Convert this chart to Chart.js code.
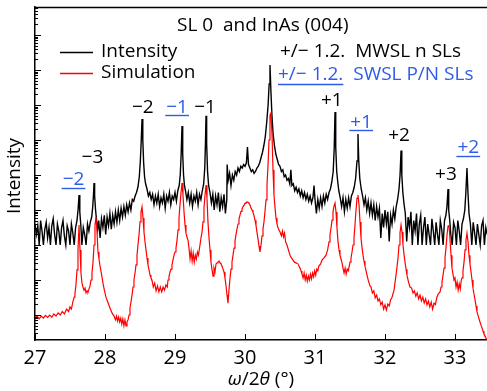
<!DOCTYPE html>
<html>
<head>
<meta charset="utf-8">
<script src="https://cdn.jsdelivr.net/npm/chart.js@4.4.1/dist/chart.umd.min.js"></script>
<style>
  html, body { margin: 0; padding: 0; background: #fff; }
  canvas { display: block; }
</style>
</head>
<body>
<canvas id="xrd_chart" width="487" height="391"></canvas>
<script>
const FONT = "'Open Sans', sans-serif";
const BLUE = '#2f5ce6';

const xTicks = [27, 28, 29, 30, 31, 32, 33];
const seriesNames = ['Intensity', 'Simulation'];

// measured omega/2theta scan: [angle (deg), log10 intensity]
const measured = [
  [27.0,3.6],[27.02,3.3],[27.04,3.55],[27.06,3.0],[27.08,3.7],[27.1,3.4],[27.12,3.0],[27.14,3.45],[27.16,3.65],[27.18,3.2],
  [27.2,3.5],[27.22,3.0],[27.24,3.55],[27.26,3.75],[27.28,3.3],[27.3,3.0],[27.32,3.6],[27.34,3.4],[27.36,3.0],[27.38,3.5],
  [27.4,3.7],[27.42,3.25],[27.44,3.0],[27.46,3.55],[27.48,3.4],[27.5,3.0],[27.52,3.6],[27.54,3.35],[27.56,3.0],[27.58,3.5],
  [27.6,3.7],[27.615,4.0],[27.629,4.43],[27.64,3.95],[27.655,3.55],[27.67,3.0],[27.69,3.5],[27.71,3.3],[27.73,3.0],[27.75,3.6],
  [27.77,3.4],[27.79,3.65],[27.81,3.8],[27.825,4.1],[27.836,4.45],[27.843,4.77],[27.852,4.4],[27.865,4.0],[27.88,3.7],[27.895,3.45],
  [27.91,3.7],[27.93,3.2],[27.95,3.75],[27.97,3.5],[27.99,3.85],[28.01,3.3],[28.03,3.8],[28.05,3.55],[28.07,3.9],[28.09,3.45],
  [28.11,3.85],[28.13,3.6],[28.15,3.95],[28.17,3.65],[28.19,4.0],[28.21,3.7],[28.23,4.05],[28.25,3.8],[28.27,4.1],[28.29,3.85],
  [28.31,4.15],[28.33,3.95],[28.35,4.2],[28.37,4.0],[28.39,4.3],[28.41,4.25],[28.43,4.4],[28.45,4.5],[28.47,4.65],[28.49,4.95],
  [28.505,5.4],[28.518,6.0],[28.529,6.6],[28.54,6.0],[28.552,5.35],[28.565,4.95],[28.58,4.75],[28.6,4.6],[28.62,4.4],[28.64,4.5],
  [28.66,4.3],[28.68,4.45],[28.7,4.15],[28.72,4.4],[28.74,4.2],[28.76,4.45],[28.78,4.1],[28.8,4.35],[28.82,4.2],[28.84,4.45],
  [28.86,4.05],[28.88,4.4],[28.9,4.25],[28.92,4.5],[28.94,4.15],[28.96,4.4],[28.98,4.3],[29.0,4.5],[29.02,4.25],[29.04,4.55],
  [29.06,4.7],[29.075,5.0],[29.088,5.6],[29.1,6.4],[29.11,5.6],[29.122,5.0],[29.135,4.7],[29.15,4.55],[29.17,4.3],[29.19,4.5],
  [29.21,4.2],[29.23,4.45],[29.25,4.1],[29.27,4.4],[29.29,4.25],[29.31,4.5],[29.33,4.15],[29.35,4.45],[29.37,4.3],[29.39,4.55],
  [29.41,4.75],[29.425,5.2],[29.435,5.9],[29.443,6.69],[29.452,5.9],[29.465,5.1],[29.48,4.7],[29.5,4.5],[29.52,4.2],[29.54,4.45],
  [29.56,4.0],[29.58,4.4],[29.6,4.15],[29.62,4.5],[29.64,3.95],[29.66,4.35],[29.68,4.1],[29.7,4.45],[29.72,3.9],[29.74,4.3],
  [29.745,5.3],[29.76,4.85],[29.78,5.05],[29.8,4.7],[29.82,5.0],[29.84,4.85],[29.86,5.1],[29.88,5.0],[29.9,5.2],[29.92,5.1],
  [29.94,5.25],[29.96,5.2],[29.98,5.3],[30.0,5.25],[30.02,5.35],[30.035,5.8],[30.05,5.3],[30.07,5.2],[30.09,5.1],[30.11,5.15],
  [30.13,5.05],[30.15,5.1],[30.17,5.2],[30.19,5.25],[30.21,5.35],[30.23,5.5],[30.25,5.65],[30.27,5.85],[30.29,6.1],[30.31,6.5],
  [30.33,7.0],[30.345,7.6],[30.357,8.14],[30.37,7.4],[30.385,6.7],[30.4,6.2],[30.42,5.85],[30.44,5.6],[30.46,5.45],[30.48,5.3],
  [30.5,5.25],[30.52,5.1],[30.54,5.15],[30.56,4.95],[30.58,5.0],[30.6,4.85],[30.62,4.9],[30.64,4.75],[30.655,5.15],[30.67,4.7],
  [30.69,4.75],[30.71,4.55],[30.73,4.65],[30.75,4.5],[30.77,4.6],[30.79,4.4],[30.81,4.55],[30.83,4.35],[30.85,4.5],[30.87,4.3],
  [30.89,4.45],[30.91,4.25],[30.93,4.4],[30.95,4.2],[30.97,4.35],[30.986,4.7],[31.0,4.3],[31.02,3.9],[31.04,4.3],[31.06,4.05],
  [31.08,4.35],[31.1,4.1],[31.12,4.4],[31.14,4.2],[31.16,4.45],[31.18,4.3],[31.2,4.5],[31.22,4.6],[31.24,4.8],[31.26,5.1],
  [31.275,5.8],[31.286,6.8],[31.296,5.8],[31.31,5.1],[31.325,4.8],[31.34,4.55],[31.36,4.35],[31.38,4.1],[31.4,4.35],[31.42,3.95],
  [31.44,4.3],[31.46,4.05],[31.48,4.35],[31.5,4.1],[31.52,4.4],[31.54,4.5],[31.56,4.65],[31.58,4.9],[31.6,5.4],[31.614,6.17],
  [31.625,5.4],[31.64,4.9],[31.66,4.6],[31.68,4.4],[31.7,4.15],[31.72,4.35],[31.74,4.0],[31.76,4.25],[31.78,3.9],[31.8,4.2],
  [31.82,3.85],[31.84,4.15],[31.86,3.7],[31.88,4.1],[31.9,3.8],[31.92,4.05],[31.94,3.2],[31.96,3.9],[31.98,3.5],[32.0,4.0],
  [32.02,3.6],[32.04,3.95],[32.06,3.1],[32.08,3.85],[32.1,3.6],[32.12,4.0],[32.14,3.75],[32.16,4.1],[32.18,4.3],[32.2,4.6],
  [32.215,5.0],[32.229,5.7],[32.24,5.0],[32.255,4.5],[32.27,4.2],[32.29,3.9],[32.31,3.1],[32.33,3.8],[32.35,3.5],[32.37,3.95],
  [32.39,3.0],[32.41,3.7],[32.43,3.4],[32.45,3.9],[32.47,3.0],[32.49,3.6],[32.51,3.85],[32.53,3.0],[32.55,3.5],[32.57,3.8],
  [32.59,3.0],[32.61,3.6],[32.63,3.3],[32.65,3.0],[32.67,3.75],[32.69,3.4],[32.71,3.0],[32.73,3.65],[32.75,3.3],[32.77,3.0],
  [32.79,3.7],[32.81,3.45],[32.83,3.0],[32.85,3.7],[32.87,3.85],[32.885,4.1],[32.9,4.6],[32.91,4.0],[32.925,3.7],[32.94,3.3],
  [32.96,3.0],[32.98,3.65],[33.0,3.5],[33.02,3.0],[33.04,3.7],[33.06,3.4],[33.08,3.0],[33.1,3.6],[33.12,3.75],[33.14,4.0],
  [33.155,4.5],[33.171,5.2],[33.185,4.5],[33.2,3.9],[33.22,3.6],[33.24,3.0],[33.26,3.65],[33.28,3.35],[33.3,3.0],[33.32,3.6],
  [33.34,3.3],[33.36,3.0],[33.38,3.55],[33.4,3.7],[33.42,3.0],[33.44,3.5],[33.46,3.3]
];

// dynamical simulation: [angle (deg), log10 intensity]
const simulated = [
  [27.0,0.91],[27.03,0.97],[27.06,0.89],[27.09,0.97],[27.12,0.91],[27.15,0.99],[27.18,0.93],[27.21,1.0],[27.24,0.94],[27.27,1.03],
  [27.3,0.97],[27.33,1.06],[27.36,1.0],[27.39,1.1],[27.42,1.03],[27.45,1.17],[27.48,1.1],[27.5,1.23],[27.52,1.17],[27.54,1.37],
  [27.56,1.51],[27.57,1.6],[27.585,1.86],[27.6,2.29],[27.614,2.86],[27.629,3.57],[27.643,2.86],[27.657,2.2],[27.671,1.91],[27.685,1.8],
  [27.7,1.71],[27.715,1.77],[27.729,1.63],[27.743,1.69],[27.757,1.66],[27.771,1.74],[27.786,1.83],[27.8,2.0],[27.814,2.2],[27.829,2.51],
  [27.843,3.0],[27.857,3.57],[27.871,3.8],[27.886,3.37],[27.9,2.8],[27.914,2.6],[27.929,2.4],[27.95,2.17],[27.971,1.91],[27.99,1.72],
  [28.014,1.51],[28.04,1.37],[28.071,1.2],[28.1,1.06],[28.129,0.97],[28.15,0.86],[28.165,0.97],[28.18,0.83],[28.195,0.94],[28.21,0.8],
  [28.225,0.91],[28.24,0.74],[28.255,0.89],[28.27,0.69],[28.285,0.86],[28.3,0.69],[28.314,0.8],[28.329,0.86],[28.343,1.0],[28.357,1.2],
  [28.371,1.37],[28.386,1.57],[28.4,1.8],[28.414,2.0],[28.429,2.2],[28.443,2.43],[28.457,2.7],[28.471,3.0],[28.486,3.29],[28.5,3.66],
  [28.514,3.94],[28.529,4.09],[28.543,3.77],[28.557,3.37],[28.571,3.1],[28.586,2.86],[28.6,2.63],[28.614,2.43],[28.629,2.29],[28.643,2.14],
  [28.657,2.06],[28.671,2.0],[28.69,1.8],[28.71,1.91],[28.73,1.69],[28.75,1.83],[28.77,1.66],[28.79,1.8],[28.81,1.66],[28.83,1.8],
  [28.85,1.71],[28.87,1.86],[28.89,1.8],[28.9,2.0],[28.914,2.1],[28.929,2.23],[28.943,2.31],[28.957,2.43],[28.971,2.57],[28.986,2.71],
  [29.0,2.8],[29.014,2.91],[29.029,3.14],[29.043,3.43],[29.057,3.77],[29.071,4.14],[29.086,4.49],[29.1,4.77],[29.114,4.43],[29.129,3.94],
  [29.143,3.57],[29.157,3.34],[29.171,3.23],[29.186,3.14],[29.2,2.91],[29.215,2.6],[29.23,2.83],[29.245,2.54],[29.26,2.77],[29.275,2.51],
  [29.29,2.71],[29.305,2.6],[29.32,2.8],[29.335,2.71],[29.357,3.0],[29.371,3.2],[29.386,3.37],[29.4,3.66],[29.414,4.06],[29.429,4.43],
  [29.443,4.71],[29.457,4.34],[29.471,3.66],[29.486,3.2],[29.5,2.86],[29.514,2.51],[29.529,2.29],[29.543,2.11],[29.557,2.34],[29.571,2.23],
  [29.586,2.46],[29.6,2.49],[29.614,2.51],[29.629,2.54],[29.643,2.49],[29.657,2.46],[29.671,2.4],[29.686,2.31],[29.7,2.23],[29.714,2.06],
  [29.729,1.83],[29.743,1.57],[29.757,1.34],[29.771,1.71],[29.786,2.06],[29.8,2.31],[29.814,2.51],[29.829,2.71],[29.843,2.91],[29.857,3.11],
  [29.871,3.29],[29.886,3.46],[29.9,3.6],[29.914,3.74],[29.929,3.86],[29.943,3.96],[29.957,4.03],[29.971,4.09],[29.986,4.14],[30.0,4.19],
  [30.014,4.21],[30.029,4.23],[30.043,4.22],[30.057,4.19],[30.071,4.14],[30.086,4.06],[30.1,4.0],[30.114,3.94],[30.129,3.83],[30.143,3.71],
  [30.157,3.56],[30.171,3.37],[30.186,3.17],[30.2,2.97],[30.214,2.8],[30.229,3.0],[30.243,3.26],[30.257,3.46],[30.271,3.66],[30.286,3.97],
  [30.3,4.29],[30.314,4.71],[30.329,5.29],[30.343,6.0],[30.357,6.71],[30.371,6.77],[30.386,6.14],[30.4,5.14],[30.414,4.43],[30.429,4.06],
  [30.443,3.77],[30.457,3.6],[30.471,3.49],[30.486,3.43],[30.5,3.37],[30.52,3.26],[30.535,3.4],[30.55,3.23],[30.565,3.34],[30.58,3.09],
  [30.6,3.0],[30.62,2.86],[30.643,2.71],[30.664,2.63],[30.686,2.57],[30.707,2.51],[30.729,2.49],[30.743,2.47],[30.757,2.46],[30.771,2.4],
  [30.786,2.34],[30.8,2.26],[30.814,2.17],[30.83,2.06],[30.845,2.2],[30.86,2.0],[30.875,2.14],[30.89,1.97],[30.905,2.11],[30.92,2.0],
  [30.935,2.17],[30.95,2.03],[30.965,2.2],[30.98,2.09],[30.995,2.26],[31.01,2.14],[31.025,2.31],[31.04,2.26],[31.055,2.4],[31.08,2.46],
  [31.1,2.57],[31.129,2.63],[31.157,2.71],[31.18,2.86],[31.2,3.09],[31.214,3.29],[31.229,3.49],[31.243,3.71],[31.257,3.94],[31.271,4.11],
  [31.286,4.2],[31.3,3.94],[31.314,3.49],[31.329,3.09],[31.343,2.86],[31.357,2.71],[31.371,2.6],[31.386,2.49],[31.4,2.34],[31.415,2.2],
  [31.43,2.34],[31.445,2.17],[31.46,2.31],[31.475,2.26],[31.5,2.51],[31.514,2.63],[31.529,2.8],[31.543,3.0],[31.557,3.2],[31.571,3.57],
  [31.586,4.0],[31.6,4.34],[31.614,4.43],[31.629,4.14],[31.643,3.66],[31.657,3.2],[31.671,2.94],[31.686,2.71],[31.7,2.54],[31.714,2.4],
  [31.729,2.26],[31.743,2.14],[31.764,1.97],[31.786,1.83],[31.8,1.8],[31.82,1.63],[31.84,1.69],[31.86,1.49],[31.88,1.57],[31.9,1.4],
  [31.92,1.46],[31.94,1.29],[31.96,1.37],[31.98,1.17],[32.0,1.29],[32.02,1.14],[32.04,1.31],[32.06,1.26],[32.08,1.43],[32.1,1.51],
  [32.129,1.71],[32.157,2.14],[32.171,2.37],[32.186,2.63],[32.2,3.0],[32.214,3.34],[32.229,3.57],[32.243,3.37],[32.257,3.0],[32.271,2.74],
  [32.286,2.51],[32.3,2.31],[32.314,2.14],[32.336,1.94],[32.357,1.8],[32.38,1.77],[32.4,1.63],[32.42,1.69],[32.44,1.54],[32.46,1.63],
  [32.48,1.46],[32.5,1.57],[32.52,1.4],[32.54,1.51],[32.56,1.34],[32.58,1.46],[32.6,1.29],[32.62,1.4],[32.64,1.23],[32.66,1.37],
  [32.68,1.17],[32.7,1.34],[32.72,1.3],[32.74,1.5],[32.76,1.6],[32.786,1.66],[32.8,1.8],[32.814,1.94],[32.829,2.14],[32.843,2.34],
  [32.857,2.63],[32.871,2.91],[32.886,3.29],[32.9,3.54],[32.914,3.57],[32.929,3.14],[32.943,2.71],[32.957,2.34],[32.971,2.17],[32.986,2.0],
  [33.0,2.06],[33.015,1.8],[33.03,1.94],[33.045,1.71],[33.06,1.89],[33.075,1.74],[33.09,2.0],[33.1,2.06],[33.114,2.26],[33.129,2.51],
  [33.143,2.86],[33.157,3.14],[33.171,3.34],[33.186,3.09],[33.2,2.71],[33.214,2.46],[33.229,2.23],[33.243,2.0],[33.257,1.77],[33.271,1.6],
  [33.286,1.43],[33.3,1.26],[33.314,1.09],[33.336,0.94],[33.357,0.8],[33.371,0.71],[33.386,0.63],[33.4,0.54],[33.414,0.46],[33.429,0.4],
  [33.443,0.34],[33.457,0.29],[33.471,0.23]
];

// satellite peak labels (MWSL black, SWSL blue + underlined)
const peakNames = ['\u22122', '\u22123', '\u22122', '\u22121', '\u22121', '+1', '+1', '+2', '+3', '+2'];
const peakFamily = ['SW', 'MW', 'MW', 'SW', 'MW', 'MW', 'SW', 'MW', 'MW', 'SW'];
// label anchor (angle, log10 intensity) of each label centre
const peakLabelAt = [
  [27.55, 4.86], [27.82, 5.51], [28.54, 6.94], [29.03, 6.94], [29.43, 6.94],
  [31.24, 7.14], [31.66, 6.51], [32.2, 6.14], [32.87, 5.0], [33.19, 5.77]
];

function toXY(arr) {
  return arr.map(p => ({ x: p[0], y: p[1] }));
}

function underline(ctx, x0, x1, y, color) {
  ctx.strokeStyle = color;
  ctx.lineWidth = 1.4;
  ctx.beginPath();
  ctx.moveTo(x0, y);
  ctx.lineTo(x1, y);
  ctx.stroke();
}

const decorations = {
  id: 'decorations',
  afterDraw(chart) {
    const ctx = chart.ctx;
    const xs = chart.scales.x;
    const ys = chart.scales.y;
    const area = chart.chartArea;
    const TXT = '19px ' + FONT;
    ctx.save();

    // top frame line
    ctx.strokeStyle = '#000';
    ctx.lineWidth = 1.4;
    ctx.beginPath();
    ctx.moveTo(area.left, area.top + 0.5);
    ctx.lineTo(area.right, area.top + 0.5);
    ctx.stroke();

    // inward log ticks on the y axis
    ctx.lineWidth = 1;
    for (let d = 0; d <= 9; d++) {
      for (let k = 1; k <= 9; k++) {
        const v = d + Math.log10(k);
        if (v < ys.min || v > ys.max) continue;
        const py = Math.round(ys.getPixelForValue(v)) + 0.5;
        const len = k === 1 ? 6 : 3;
        ctx.beginPath();
        ctx.moveTo(area.left, py);
        ctx.lineTo(area.left + len, py);
        ctx.stroke();
      }
    }
    // inward ticks on the x axis
    xTicks.forEach(t => {
      const px = Math.round(xs.getPixelForValue(t)) + 0.5;
      ctx.beginPath();
      ctx.moveTo(px, area.bottom);
      ctx.lineTo(px, area.bottom - 6);
      ctx.stroke();
    });

    ctx.font = TXT;
    ctx.textBaseline = 'middle';
    ctx.textAlign = 'left';

    // legend
    const legendColors = ['#000', '#ff0000'];
    seriesNames.forEach((name, i) => {
      const y = 52 + i * 21;
      ctx.strokeStyle = legendColors[i];
      ctx.lineWidth = 1.4;
      ctx.beginPath();
      ctx.moveTo(60, y + 0.5);
      ctx.lineTo(93, y + 0.5);
      ctx.stroke();
      ctx.fillStyle = '#000';
      ctx.fillText(name, 101, y);
    });

    // header texts
    ctx.fillStyle = '#000';
    ctx.fillText('SL 0  and InAs (004)', 177, 26);
    ctx.fillText('+/\u2212 1.2.  MWSL n SLs', 280, 52);
    ctx.fillStyle = BLUE;
    const pre = '+/\u2212 1.2.';
    ctx.fillText(pre, 278, 75);
    const wPre = ctx.measureText(pre).width;
    underline(ctx, 278, 278 + wPre, 84.5, BLUE);
    ctx.fillText('SWSL P/N SLs', 278 + wPre + ctx.measureText('  ').width, 75);

    // satellite labels
    ctx.textAlign = 'center';
    peakNames.forEach((txt, i) => {
      const px = xs.getPixelForValue(peakLabelAt[i][0]);
      const py = ys.getPixelForValue(peakLabelAt[i][1]);
      const isSW = peakFamily[i] === 'SW';
      ctx.fillStyle = isSW ? BLUE : '#000';
      ctx.fillText(txt, px, py);
      if (isSW) {
        const w = ctx.measureText(txt).width;
        underline(ctx, px - w / 2 - 1, px + w / 2 + 1, Math.round(py) + 8.5, BLUE);
      }
    });

    // axis titles
    ctx.fillStyle = '#000';
    ctx.textAlign = 'left';
    const parts = [['\u03c9', true], ['/2', false], ['\u03b8', true], [' (\u00b0)', false]];
    let total = 0;
    parts.forEach(p => {
      ctx.font = (p[1] ? 'italic ' : '') + TXT;
      total += ctx.measureText(p[0]).width;
    });
    let cx = 261 - total / 2;
    parts.forEach(p => {
      ctx.font = (p[1] ? 'italic ' : '') + TXT;
      ctx.fillText(p[0], cx, 380);
      cx += ctx.measureText(p[0]).width;
    });

    ctx.font = TXT;
    ctx.translate(15, 176);
    ctx.rotate(-Math.PI / 2);
    ctx.textAlign = 'center';
    ctx.fillText('Intensity', 0, 0);

    ctx.restore();
  }
};

const canvas = document.getElementById('xrd_chart');
new Chart(canvas, {
  type: 'line',
  data: {
    datasets: [
      {
        label: seriesNames[1],
        data: toXY(simulated),
        borderColor: '#ff0000',
        borderWidth: 1.2,
        pointRadius: 0,
        tension: 0,
        order: 1
      },
      {
        label: seriesNames[0],
        data: toXY(measured),
        borderColor: '#000000',
        borderWidth: 1.4,
        pointRadius: 0,
        tension: 0,
        order: 2
      }
    ]
  },
  options: {
    responsive: false,
    animation: false,
    devicePixelRatio: 1,
    layout: { padding: { top: 7, right: 0, bottom: 0, left: 0 } },
    plugins: { legend: { display: false }, tooltip: { enabled: false } },
    scales: {
      x: {
        type: 'linear',
        min: 27,
        max: 33.457,
        afterFit(s) { s.height = 51; },
        afterBuildTicks(s) { s.ticks = xTicks.map(v => ({ value: v })); },
        ticks: { color: '#000', font: { family: FONT, size: 20 }, padding: 6, maxRotation: 0 },
        grid: { display: false, drawTicks: false },
        border: { display: true, color: '#000', width: 1.5 }
      },
      y: {
        type: 'linear',
        min: 0.286,
        max: 9.8,
        afterFit(s) { s.width = 35; },
        ticks: { display: false },
        grid: { display: false, drawTicks: false },
        border: { display: true, color: '#000', width: 1.5 }
      }
    }
  },
  plugins: [decorations]
});
</script>
</body>
</html>
